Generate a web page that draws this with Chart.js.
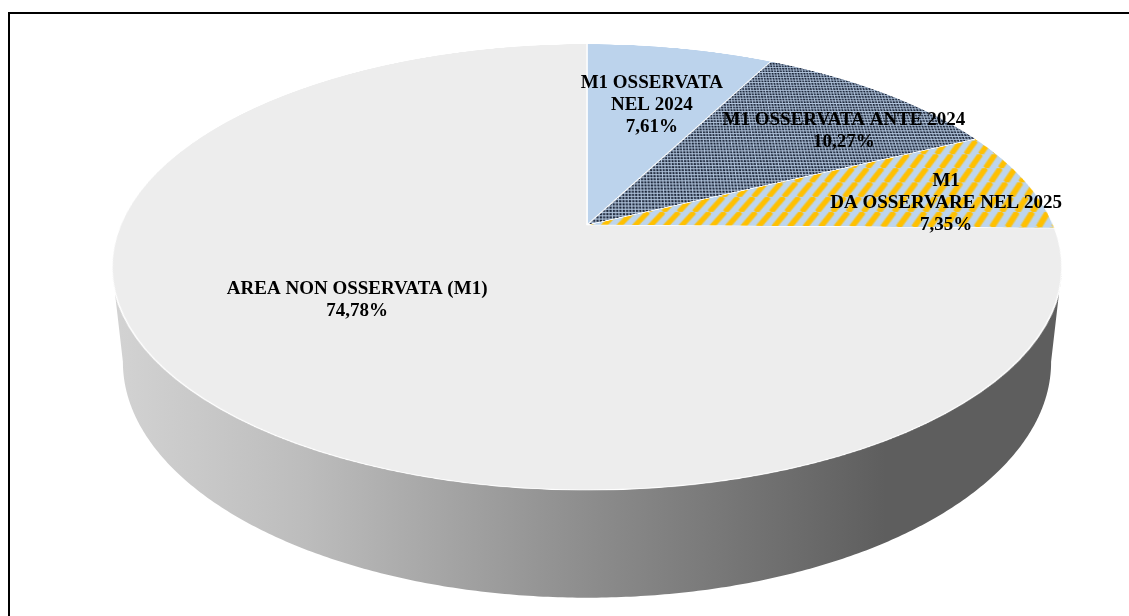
<!DOCTYPE html>
<html>
<head>
<meta charset="utf-8">
<script src="https://cdn.jsdelivr.net/npm/chart.js@4"></script>
<style>
  html, body { margin: 0; padding: 0; background: #fff; }
  #wrap { position: relative; width: 1129px; height: 616px; overflow: hidden; }
  #frame { position: absolute; left: 8px; top: 12px; width: 1200px; height: 700px; border: 2px solid #000; }
  #side, #labels { position: absolute; left: 0; top: 0; }
  #side { z-index: 1; }
  #chart { position: absolute; z-index: 2; }
  #labels { z-index: 3; }
</style>
</head>
<body>
<div id="wrap">
  <div id="frame"></div>
  <canvas id="side" width="1129" height="616"></canvas>
  <canvas id="chart" width="1000" height="1000"></canvas>
  <canvas id="labels" width="1129" height="616"></canvas>
</div>
<script>
// dati del grafico
const categories = ["M1 OSSERVATA NEL 2024", "M1 OSSERVATA ANTE 2024", "M1 DA OSSERVARE NEL 2025", "AREA NON OSSERVATA (M1)"];
const labelLines = [["M1 OSSERVATA", "NEL 2024"], ["M1 OSSERVATA ANTE 2024"], ["M1", "DA OSSERVARE NEL 2025"], ["AREA NON OSSERVATA (M1)"]];
const shares = [7.61, 10.27, 7.35, 74.78];

// vista 3D (come la torta 3D di Excel): centro a schermo, raggio, inclinazione, prospettiva, spessore
const view = { cx: 587, cy: 225, radius: 466.5, tilt: 62.54, persp: 2198, depth: 108 };
// posizione etichette: frazione del raggio, spostamento angolare in gradi
const labelPos = [[0.642, 0.3], [0.766, 5.7], [0.792, 4.8], [0.567, 9.2]];

pie_chart();

function project(x, y, z) {
  const a = (view.tilt * Math.PI) / 180;
  const y1 = y * Math.cos(a) - z * Math.sin(a);
  const z1 = y * Math.sin(a) + z * Math.cos(a);
  const k = view.persp / (view.persp - z1);
  return [view.cx + x * k, view.cy + y1 * k];
}

function makeDots() {
  const c = document.createElement("canvas");
  c.width = 3;
  c.height = 3;
  const g = c.getContext("2d");
  g.fillStyle = "#b3c6de";
  g.fillRect(0, 0, 3, 3);
  g.fillStyle = "#1c263a";
  g.fillRect(0, 0, 2, 2);
  return g.createPattern(c, "repeat");
}

function makeStripes() {
  const p = 14;
  const c = document.createElement("canvas");
  c.width = p;
  c.height = p;
  const g = c.getContext("2d");
  g.fillStyle = "#bdd5ee";
  g.fillRect(0, 0, p, p);
  g.strokeStyle = "#ffc000";
  g.lineWidth = 4.5;
  for (let k = -1; k <= 1; k++) {
    g.beginPath();
    g.moveTo(k * p, p);
    g.lineTo(k * p + p, 0);
    g.stroke();
  }
  return g.createPattern(c, "repeat");
}

function drawSide() {
  const ctx = document.querySelector("#side").getContext("2d");
  const R = view.radius;
  const n = 720;
  const top = [];
  const bot = [];
  for (let i = 0; i <= n; i++) {
    const t = (i / n) * Math.PI * 2;
    top.push(project(R * Math.cos(t), R * Math.sin(t), 0));
    bot.push(project(R * Math.cos(t), R * Math.sin(t), -view.depth));
  }
  const half = n / 2;
  let iR = 0, iL = 0, jR = 0, jL = 0;
  for (let i = 0; i <= half; i++) {
    if (top[i][0] > top[iR][0]) iR = i;
    if (top[i][0] < top[iL][0]) iL = i;
    if (bot[i][0] > bot[jR][0]) jR = i;
    if (bot[i][0] < bot[jL][0]) jL = i;
  }
  ctx.beginPath();
  ctx.moveTo(top[iR][0], top[iR][1]);
  for (let i = iR; i <= iL; i++) ctx.lineTo(top[i][0], top[i][1]);
  for (let i = jL; i >= jR; i--) ctx.lineTo(bot[i][0], bot[i][1]);
  ctx.closePath();
  const grad = ctx.createLinearGradient(view.cx - R, 0, view.cx + R, 0);
  grad.addColorStop(0, "#d2d2d2");
  grad.addColorStop(0.2, "#bcbcbc");
  grad.addColorStop(0.5, "#8d8d8d");
  grad.addColorStop(0.82, "#5e5e5e");
  grad.addColorStop(1, "#5e5e5e");
  ctx.fillStyle = grad;
  ctx.fill();
}

function pie_chart() {
  const canvas = document.querySelector("#chart");
  const ctx = canvas.getContext("2d");
  const patterns = [makeDots(), makeStripes()];

  const chart = new Chart(ctx, {
    type: "pie",
    data: {
      labels: categories,
      datasets: [
        {
          data: shares,
          backgroundColor: ["#bcd3ec", patterns[0], patterns[1], "#ededed"],
          borderColor: "#ffffff",
          borderWidth: 1.5,
        },
      ],
    },
    options: {
      responsive: false,
      animation: false,
      events: [],
      plugins: {
        legend: { display: false },
        tooltip: { enabled: false },
      },
    },
  });

  // inclina il cerchio piatto di Chart.js in prospettiva
  const meta = chart.getDatasetMeta(0);
  const first = meta.data[0];
  const k = view.radius / first.outerRadius;
  const cosA = Math.cos((view.tilt * Math.PI) / 180);
  patterns.forEach((p) => p.setTransform(new DOMMatrix([1 / (k * 0.9), 0, 0, 1 / (k * cosA * 0.9), 0, 0])));
  chart.update("none");

  canvas.style.left = view.cx - first.x + "px";
  canvas.style.top = view.cy - first.y + "px";
  canvas.style.transformOrigin = `${first.x}px ${first.y}px`;
  canvas.style.transform = `perspective(${view.persp}px) rotateX(${view.tilt}deg) scale(${k})`;

  drawSide();

  // etichette
  const lc = document.querySelector("#labels").getContext("2d");
  lc.font = "bold 19px 'Liberation Serif'";
  lc.fillStyle = "#000";
  lc.textAlign = "center";
  lc.textBaseline = "middle";
  meta.data.forEach((a, i) => {
    const [f, shift] = labelPos[i];
    const t = (a.startAngle + a.endAngle) / 2 + (shift * Math.PI) / 180;
    const [x, y] = project(f * view.radius * Math.cos(t), f * view.radius * Math.sin(t), 0);
    const lines = [...labelLines[i], shares[i].toFixed(2).replace(".", ",") + "%"];
    lines.forEach((ln, j) => {
      lc.fillText(ln, x, y + (j - (lines.length - 1) / 2) * 22);
    });
  });
}
</script>
</body>
</html>
